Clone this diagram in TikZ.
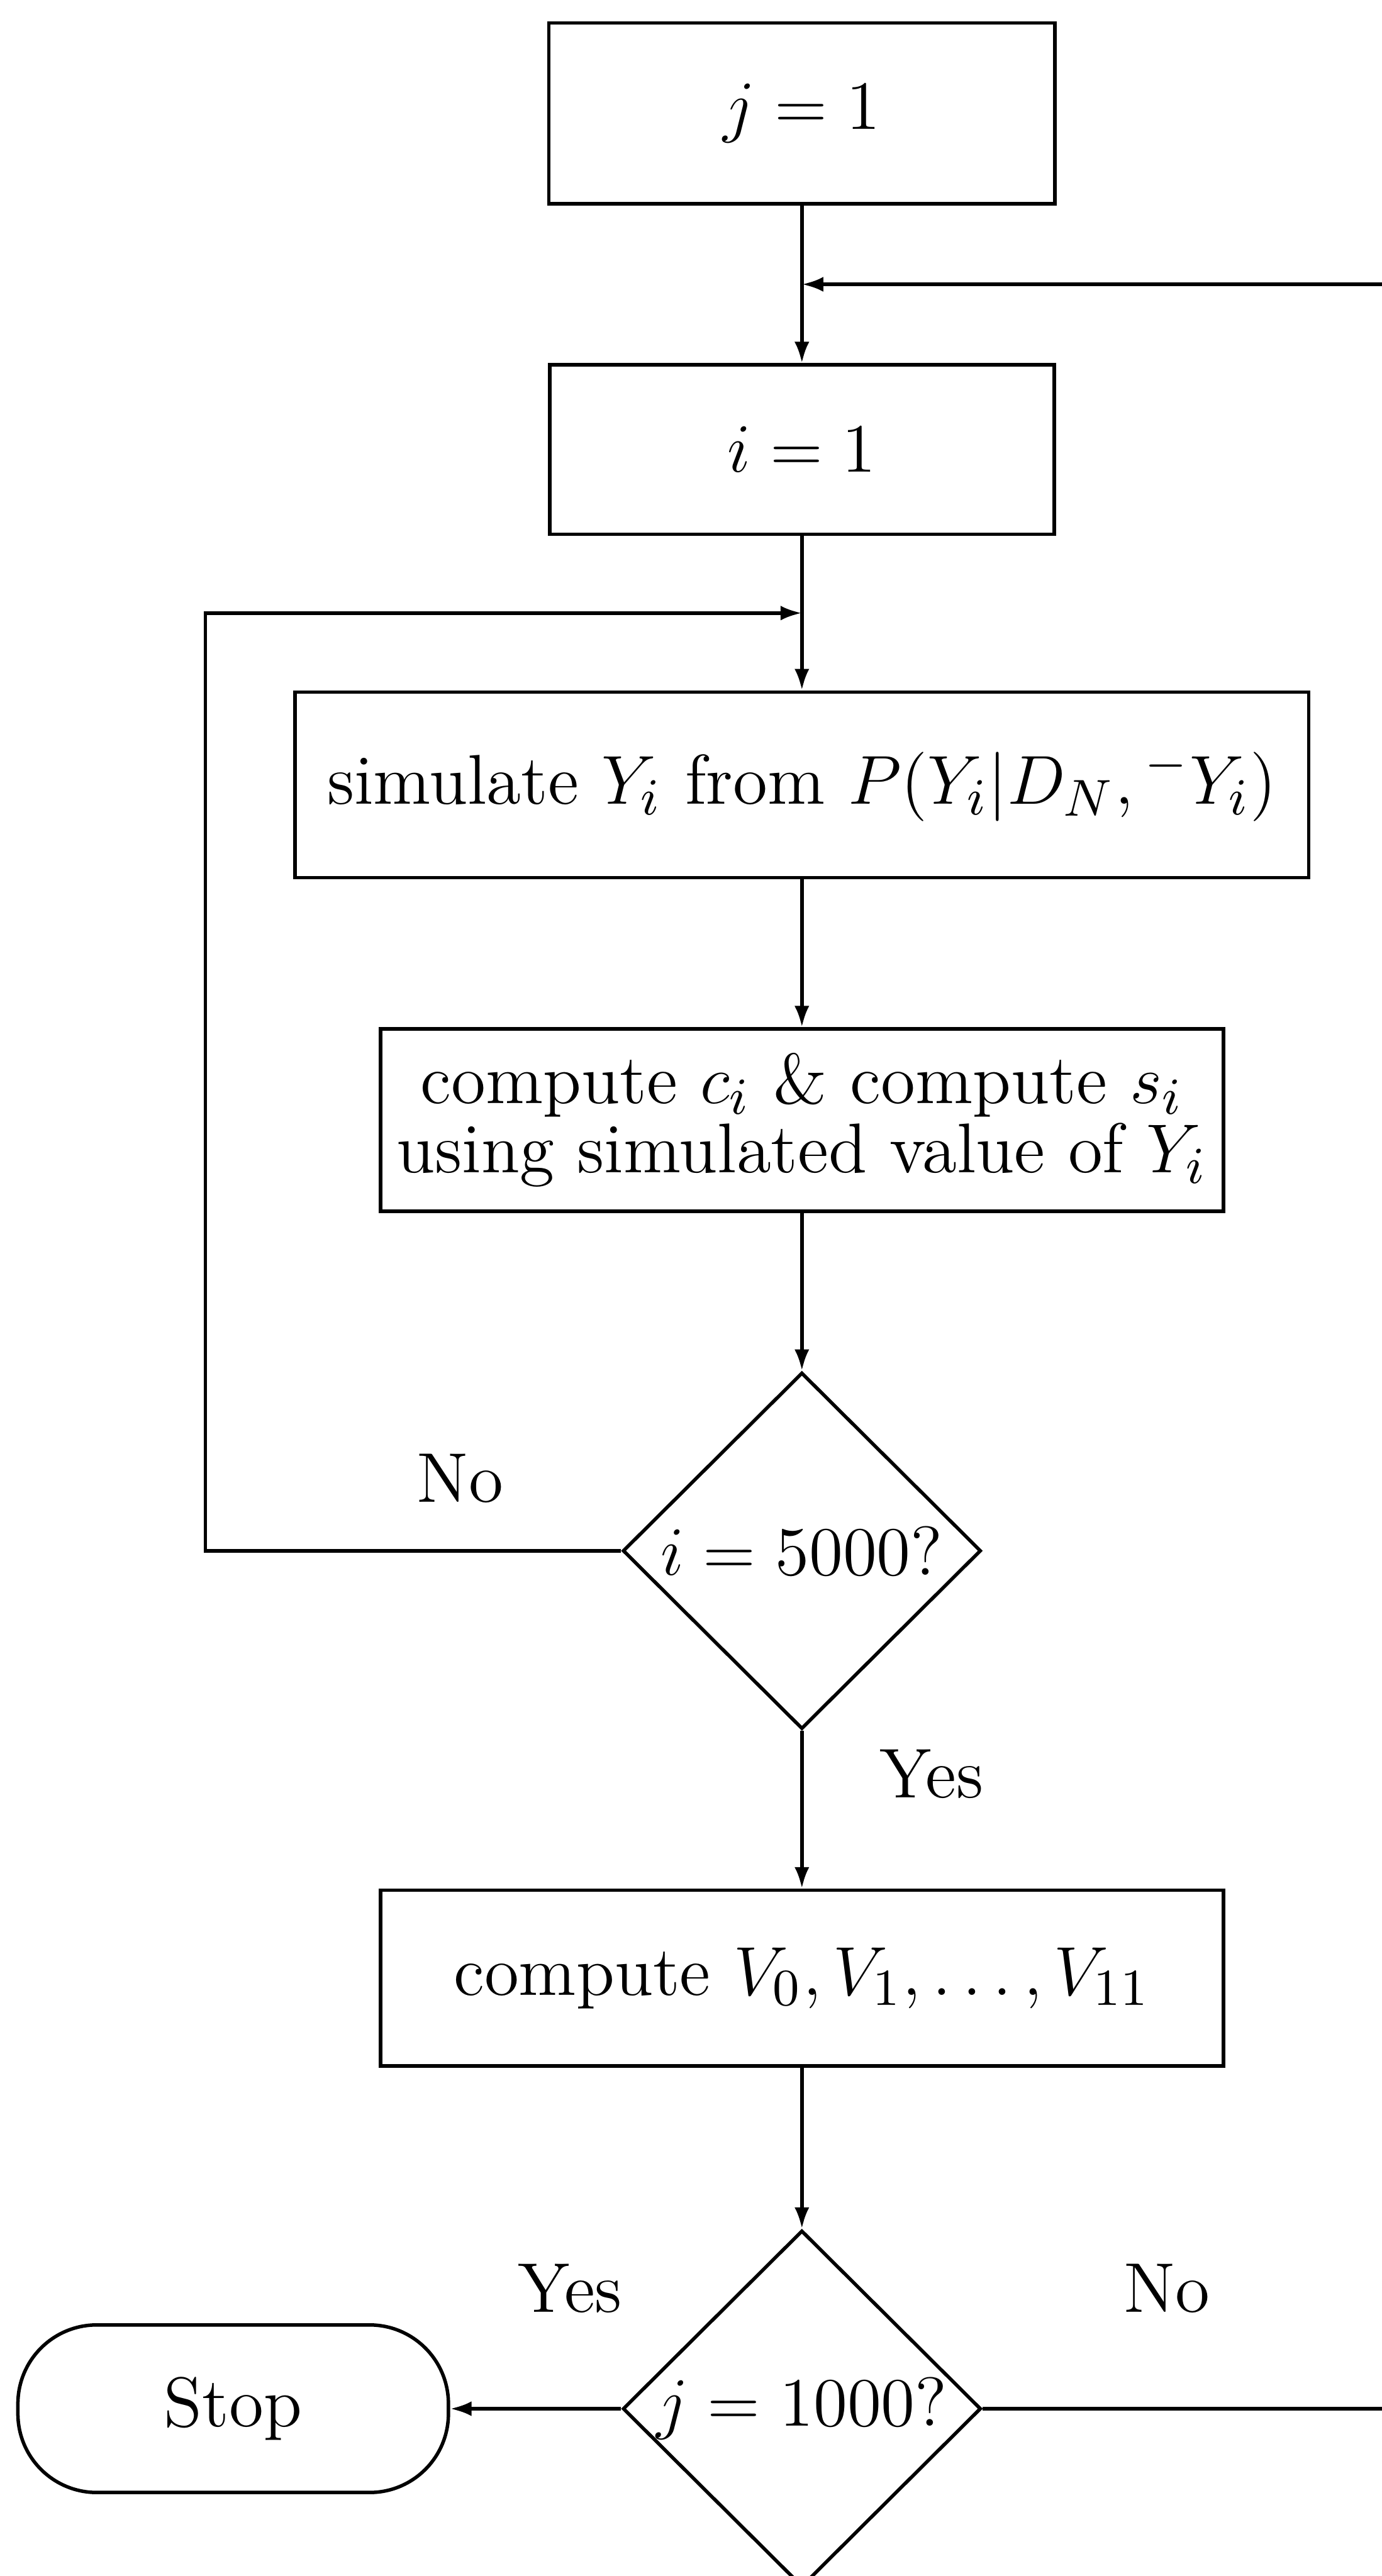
\documentclass[tikz,border=0pt]{standalone}
\usepackage{amsmath,amssymb}
\usepackage{tikz}
\usetikzlibrary{shapes.geometric, arrows.meta, positioning, calc}

\begin{document}
\begin{tikzpicture}[
  font=\fontsize{12.2}{12}\selectfont,
  node distance=0.96cm,
  line width=0.6pt,
  % Box styles
  procbox/.style={draw, rectangle, inner sep=2pt, align=center},
  decision/.style={draw, diamond, inner sep=0pt, minimum width=2.18cm,
                   minimum height=2.17cm},
  terminal/.style={draw, rectangle, rounded corners=0.48cm, minimum width=2.62cm,
                   minimum height=1.02cm},
  arrow/.style={-{Latex[length=1.3mm, width=0.9mm]}},
  lbl/.style={inner sep=1pt},
]

% frame of the (cropped) figure
\useasboundingbox (0,0) rectangle (8.41,-15.68);
\clip (0,0) rectangle (8.41,-15.68);

% ---- MAIN COLUMN ----
\node[procbox, minimum width=3.08cm, minimum height=1.10cm] (j1) at (4.88,-0.69) {$j=1$};
\node[procbox, minimum width=3.07cm, minimum height=1.03cm] (i1) [below=of j1] {$i=1$};
\node[procbox, minimum width=6.17cm, minimum height=1.13cm] (sim) [below=0.94cm of i1]
      {simulate $Y_i$ from $P(Y_i|D_N,{}^-Y_i)$};
\node[procbox, minimum width=5.13cm, minimum height=1.11cm] (comp) [below=0.90cm of sim]
      {compute $c_i$ \& compute $s_i$\\using simulated value of $Y_i$};
\node[decision] (d1) [below=of comp] {\makebox[0pt]{$i=5000?$}};
\node[procbox, minimum width=5.13cm, minimum height=1.07cm] (vals) [below=of d1]
      {compute $V_0,V_1,\ldots,V_{11}$};
\node[decision] (d2) [below=0.98cm of vals] {\makebox[0pt]{$j=1000?$}};

% ---- STOP ----
\node[terminal] (stop) [left=1.04cm of d2] {Stop};

% straight arrows down the column
\draw[arrow] (j1) -- (i1);
\draw[arrow] (i1) -- (sim);
\draw[arrow] (sim) -- (comp);
\draw[arrow] (comp) -- (d1);
\draw[arrow] (d1) -- (vals);
\draw[arrow] (vals) -- (d2);
\draw[arrow] (d2.west) -- (stop.east);

% ---- LOOP BACK ON i ----
\coordinate (iback) at ($(i1.south)!0.5!(sim.north)$);
\coordinate (ileft) at (1.25,0);
\draw[arrow] (d1.west) -- (d1.west -| ileft) |- (iback);

% ---- LOOP BACK ON j (runs off the right edge) ----
\coordinate (jback) at ($(j1.south)!0.5!(i1.north)$);
\coordinate (jright) at (9.2,0);
\draw[arrow] (d2.east) -- (d2.east -| jright) |- (jback);

% labels
\node[lbl] (no1)  at (2.80,-9.00)  {No};
\node[lbl] (yes1) at (5.67,-10.80) {Yes};
\node[lbl] (yes2) at (3.47,-13.93) {Yes};
\node[lbl] (no2)  at (7.10,-13.93) {No};

\end{tikzpicture}
\end{document}
